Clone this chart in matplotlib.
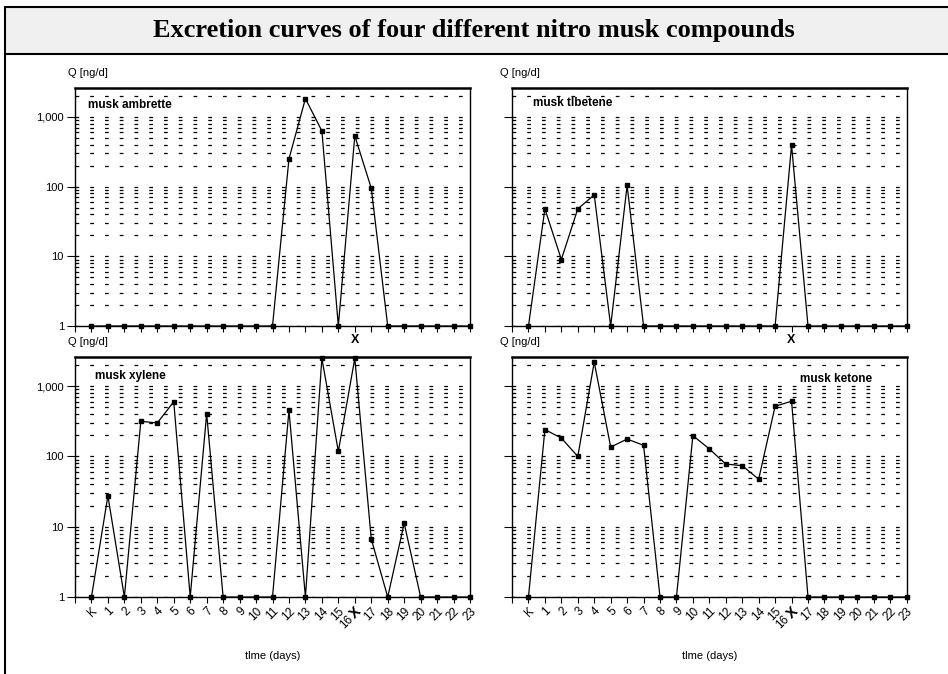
import matplotlib
matplotlib.use('Agg')
import matplotlib.pyplot as plt
import matplotlib.transforms as mtransforms
from matplotlib.ticker import FixedLocator, LogLocator, FuncFormatter
from matplotlib.patches import Rectangle
from matplotlib.lines import Line2D

plt.rcParams['font.family'] = ['Liberation Sans', 'DejaVu Sans']

# x positions: K, days 1..15, X (day 16), days 17..23
days = ['K'] + [str(i) for i in range(1, 16)] + ['X'] + [str(i) for i in range(17, 24)]

ambrette = [1, 1, 1, 1, 1, 1, 1, 1, 1, 1, 1, 1,
            250, 1830, 630, 1, 535, 95, 1, 1, 1, 1, 1, 1]
tibetene = [1, 48, 9, 48, 76, 1, 104, 1, 1, 1, 1, 1,
            1, 1, 1, 1, 394, 1, 1, 1, 1, 1, 1, 1]
xylene = [1, 27.5, 1, 316, 300, 600, 1, 407, 1, 1, 1, 1,
          454, 1, 2490, 118, 2490, 6.7, 1, 11.2, 1, 1, 1, 1]
ketone = [1, 241, 183, 100, 2200, 136, 177, 144, 1, 1, 198, 128,
          78, 74, 47.5, 518, 611, 1, 1, 1, 1, 1, 1, 1]

panels = [
    # (values, name, rect, name position, bottom row, left column)
    (ambrette, 'musk ambrette', [0.0791, 0.5163, 0.4167, 0.3531], (0.033, 0.929), False, True),
    (tibetene, 'musk tlbetene', [0.5401, 0.5163, 0.4163, 0.3531], (0.053, 0.937), False, False),
    (xylene, 'musk xylene', [0.0791, 0.1142, 0.4167, 0.3561], (0.050, 0.921), True, True),
    (ketone, 'musk ketone', [0.5401, 0.1142, 0.4163, 0.3561], (0.730, 0.908), True, False),
]

fig = plt.figure(figsize=(9.48, 6.74), dpi=100)

# title box and page border
fig.add_artist(Rectangle((5 / 948, 1 - 54 / 674), 1.0, 47 / 674, transform=fig.transFigure,
                         facecolor='#f0f0f0', edgecolor='black', linewidth=1.5))
fig.add_artist(Line2D([5 / 948, 5 / 948], [0, 1 - 54 / 674], transform=fig.transFigure,
                      color='black', linewidth=1.5))
fig.text(0.5, 1 - 31 / 674, 'Excretion curves of four different nitro musk compounds',
         ha='center', va='center', fontsize=19, fontweight='bold', family='Liberation Serif')

x = list(range(len(days)))

for vals, name, rect, npos, bottom_row, left_col in panels:
    ax = fig.add_axes(rect)
    ax.set_yscale('log')
    ax.set_xlim(-1, 23)
    ax.set_ylim(1, 2600)

    ax.yaxis.set_major_locator(FixedLocator([1, 10, 100, 1000]))
    ax.yaxis.set_minor_locator(LogLocator(base=10, subs=range(2, 10)))
    ax.yaxis.set_major_formatter(FuncFormatter(lambda v, _: f'{int(round(v)):,}'))
    ax.grid(True, which='both', axis='y', color='black', linewidth=0.9,
            linestyle=(0, (3, 8.8)))
    ax.tick_params(axis='y', which='major', direction='out', length=6, width=0.8,
                   labelsize=8, pad=2, labelleft=left_col)
    ax.tick_params(axis='y', which='minor', length=0)

    ax.set_xticks(range(-1, 24))
    ax.tick_params(axis='x', direction='out', length=4, width=0.8, labelsize=8.5, pad=5)
    if bottom_row:
        ax.set_xticklabels([''] + days)
        offset = mtransforms.ScaledTranslation(3 / 72, 0, fig.dpi_scale_trans)
        for lab in ax.get_xticklabels():
            lab.set_rotation(45)
            lab.set_ha('right')
            lab.set_va('center')
            lab.set_rotation_mode('anchor')
            lab.set_transform(lab.get_transform() + offset)
            if lab.get_text() == 'X':
                lab.set_fontweight('bold')
                lab.set_fontsize(10.5)
        # the "16" label squeezed under 15 / X
        ax.annotate('16', xy=(15.6, 0), xycoords=('data', 'axes fraction'),
                    xytext=(2, -15), textcoords='offset points', rotation=45,
                    ha='right', va='center', rotation_mode='anchor', fontsize=8.5)
        ax.text(16, 1.07, 'X', transform=ax.get_xaxis_transform(), ha='center',
                va='center', fontsize=9, fontweight='bold')
        ax.set_xlabel('tlme (days)', fontsize=8, labelpad=20)
    else:
        ax.set_xticklabels([''] * 25)

    for s in ['left', 'right', 'bottom']:
        ax.spines[s].set_linewidth(1.0)
    ax.spines['top'].set_linewidth(1.8)

    ax.plot(x, vals, color='black', linewidth=0.9, marker='s', markersize=2.6,
            clip_on=False, zorder=3)

    ax.text(npos[0], npos[1], name, transform=ax.transAxes, fontsize=8.5,
            fontweight='bold', ha='left', va='center')
    qx = -0.018 if left_col else -0.03
    ax.text(qx, 1.062, 'Q [ng/d]', transform=ax.transAxes, fontsize=8,
            ha='left', va='center')

fig.savefig('out.png', dpi=100)
